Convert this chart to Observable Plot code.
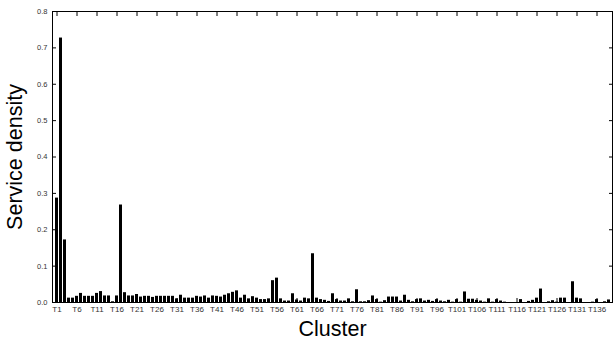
<!DOCTYPE html>
<html>
<head>
<meta charset="utf-8">
<script src="https://cdn.jsdelivr.net/npm/d3@7"></script>
<script src="https://cdn.jsdelivr.net/npm/@observablehq/plot@0.6"></script>
<style>
  html, body { margin: 0; padding: 0; background: #fff; }
  #chart { width: 613px; height: 342px; }
  svg { font-family: "Liberation Sans", Arial, sans-serif; }
</style>
</head>
<body>
<div id="chart"></div>
<script>
// Cluster names T1 … T139
const clusters = d3.range(1, 140).map(i => "T" + i);

// Service density per cluster
const density = [
  0.287, 0.727, 0.172, 0.012, 0.012, 0.017, 0.025, 0.017, 0.017, 0.017,
  0.025, 0.030, 0.018, 0.018, 0.002, 0.018, 0.268, 0.027, 0.018, 0.018,
  0.022, 0.015, 0.017, 0.017, 0.014, 0.017, 0.017, 0.017, 0.017, 0.017,
  0.010, 0.020, 0.012, 0.012, 0.012, 0.017, 0.015, 0.018, 0.012, 0.018,
  0.017, 0.015, 0.020, 0.024, 0.028, 0.032, 0.012, 0.020, 0.010, 0.016,
  0.012, 0.008, 0.008, 0.010, 0.060, 0.067, 0.010, 0.004, 0.004, 0.024,
  0.007, 0.004, 0.012, 0.010, 0.134, 0.012, 0.008, 0.006, 0.003, 0.024,
  0.008, 0.004, 0.004, 0.010, 0.002, 0.035, 0.002, 0.002, 0.005, 0.018,
  0.008, 0.001, 0.005, 0.015, 0.015, 0.015, 0.004, 0.020, 0.006, 0.002,
  0.008, 0.010, 0.004, 0.006, 0.003, 0.008, 0.004, 0.002, 0.006, 0.001,
  0.008, 0.001, 0.029, 0.009, 0.009, 0.006, 0.004, 0.001, 0.010, 0.001,
  0.008, 0.004, 0.001, 0.000, 0.000, 0.000, 0.008, 0.000, 0.003, 0.006,
  0.012, 0.037, 0.000, 0.002, 0.005, 0.001, 0.012, 0.012, 0.000, 0.057,
  0.012, 0.010, 0.000, 0.000, 0.001, 0.008, 0.000, 0.002, 0.007
];

// Labelled ticks: every fifth cluster
const xTicks = clusters.filter((d, i) => i % 5 === 0);
const yTicks = [0, 0.1, 0.2, 0.3, 0.4, 0.5, 0.6, 0.7, 0.8];

const data = clusters.map((c, i) => ({cluster: c, value: density[i]}));

const fmt = d3.format(".1f");
const blank = () => "";

const chart = Plot.plot({
  width: 613,
  height: 342,
  marginLeft: 52,
  marginRight: 1,
  marginTop: 11,
  marginBottom: 40,
  style: {fontFamily: "Liberation Sans, Arial, sans-serif", background: "#fff", color: "#000"},
  x: {type: "band", domain: clusters, padding: 0.2, insetLeft: 2, label: null},
  y: {domain: [0, 0.8], label: null},
  marks: [
    Plot.barY(data, {x: "cluster", y: "value", fill: "#000"}),
    Plot.frame({stroke: "#000", strokeWidth: 1}),
    // inward tick marks on all four sides
    Plot.axisX(xTicks, {anchor: "bottom", tickSize: -4, tickFormat: blank, label: null}),
    Plot.axisX(xTicks, {anchor: "top", tickSize: -4, tickFormat: blank, label: null}),
    Plot.axisY(yTicks, {anchor: "left", tickSize: -4, tickFormat: blank, label: null}),
    Plot.axisY(yTicks, {anchor: "right", tickSize: -4, tickFormat: blank, label: null}),
    // tick labels
    Plot.axisX(xTicks, {anchor: "bottom", tickSize: 0, tickPadding: 4, fontSize: 8, fill: "#333", label: null}),
    Plot.axisY(yTicks, {anchor: "left", tickSize: 0, tickPadding: 5, tickFormat: fmt, fontSize: 7.5, fill: "#333", label: null}),
    // axis titles
    Plot.axisX([], {anchor: "bottom", label: "Cluster", labelAnchor: "center", labelOffset: 33, labelArrow: "none", fontSize: 21.5}),
    Plot.axisY([], {anchor: "left", label: "Service density", labelAnchor: "center", labelOffset: 46, labelArrow: "none", fontSize: 21.5})
  ]
});

document.getElementById("chart").appendChild(chart);
</script>
</body>
</html>
